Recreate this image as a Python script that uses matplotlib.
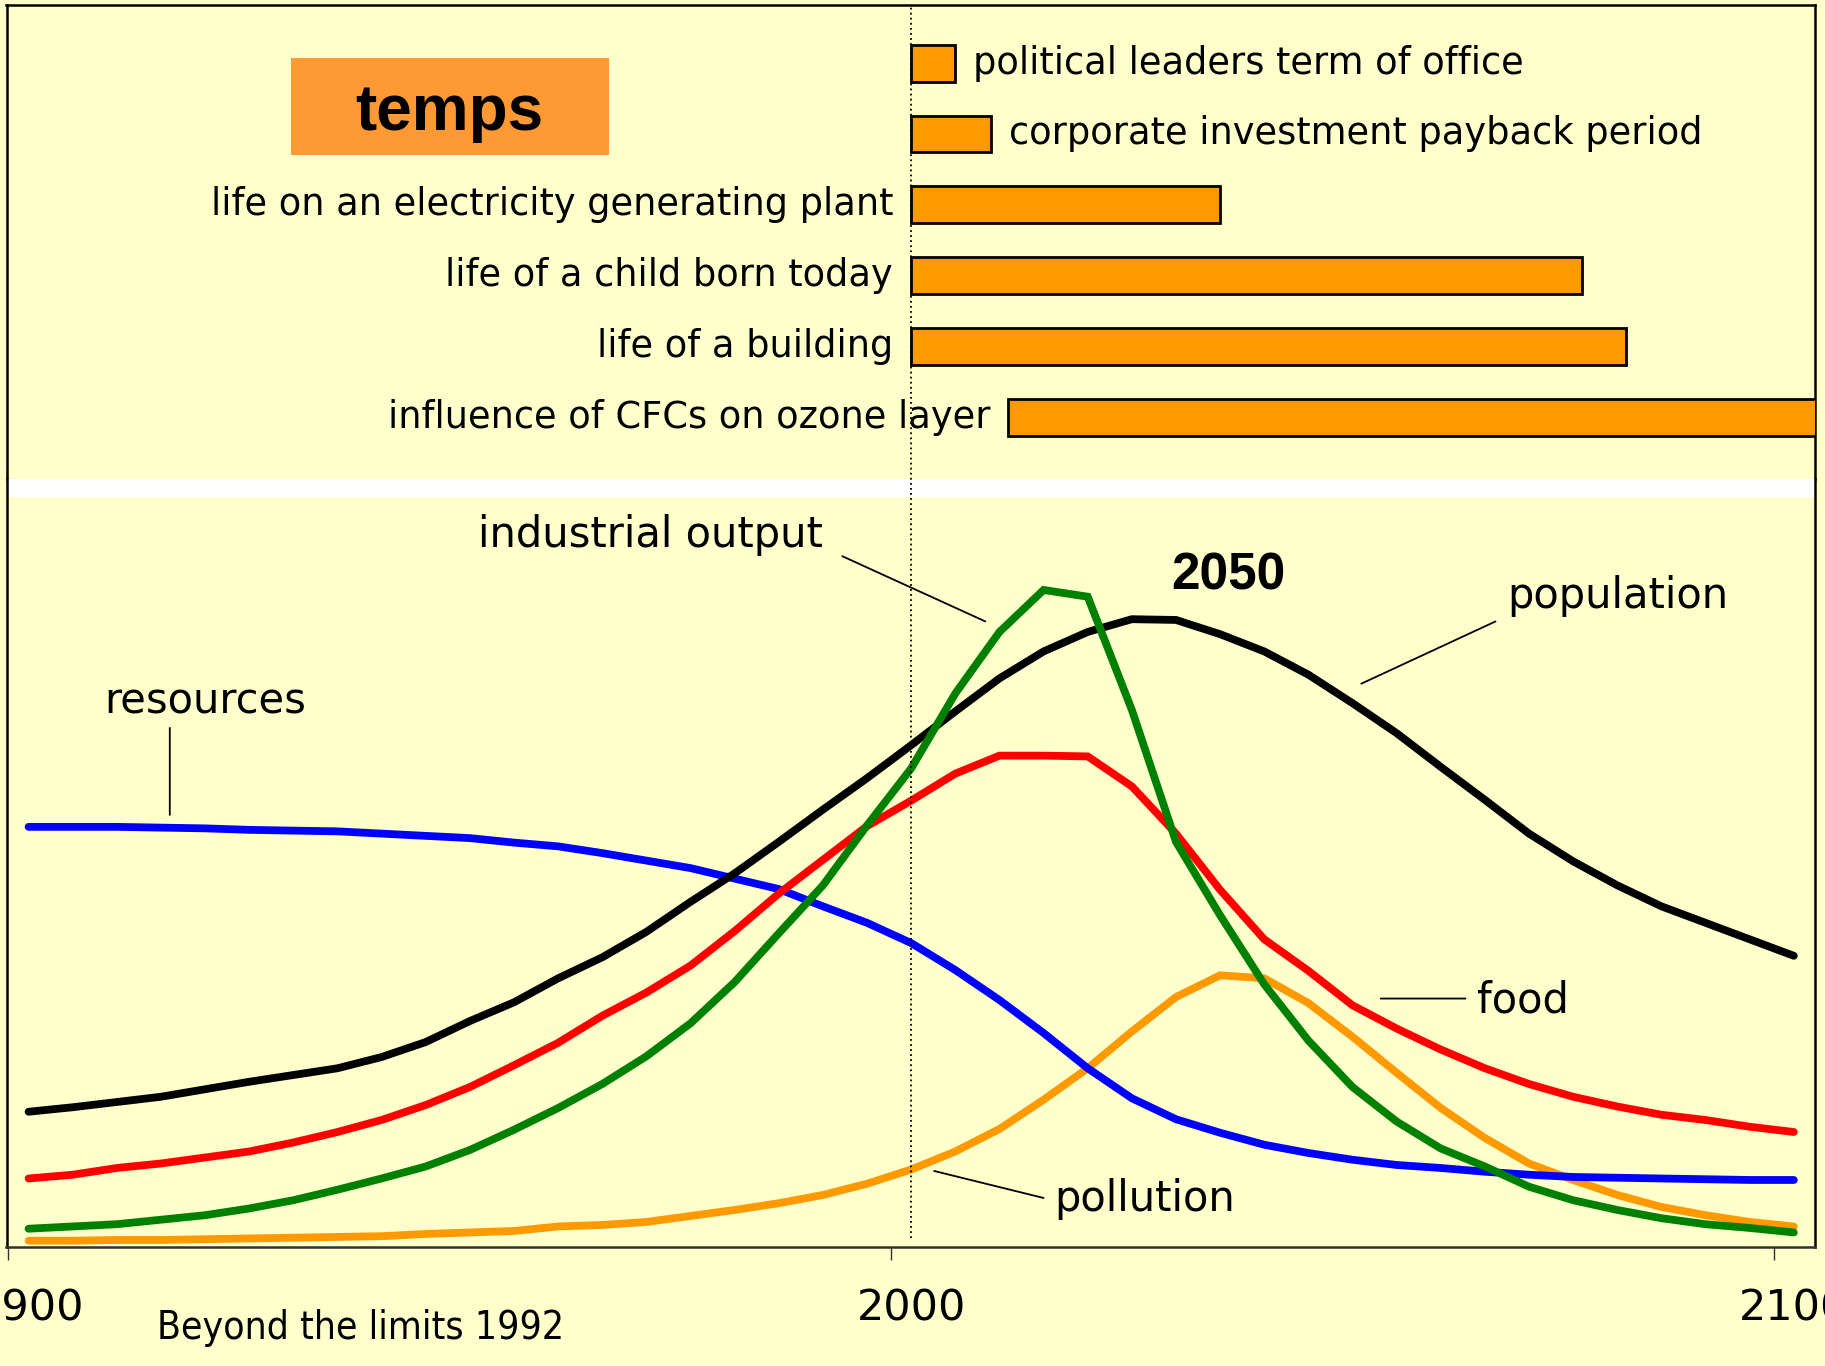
import matplotlib
matplotlib.use("Agg")
import matplotlib.pyplot as plt
from matplotlib.patches import Rectangle
from matplotlib.lines import Line2D
from matplotlib import transforms, font_manager

# ---------------- data ----------------
years = list(range(1900, 2101, 5))

population = [18.0, 18.6, 19.3, 20.0, 21.0, 22.0, 22.9, 23.8, 25.3, 27.3, 30.1, 32.6, 35.8, 38.6,
              42.0, 46.0, 49.8, 54.0, 58.3, 62.5, 66.9, 71.4, 75.8, 79.4, 82.0, 83.7, 83.6, 81.7,
              79.4, 76.3, 72.5, 68.5, 64.0, 59.6, 55.1, 51.4, 48.2, 45.4, 43.2, 41.0, 38.8]
food = [9.1, 9.6, 10.5, 11.1, 11.9, 12.7, 13.9, 15.3, 16.9, 18.9, 21.3, 24.2, 27.2, 30.8,
        33.9, 37.5, 42.1, 47.1, 51.6, 56.1, 59.5, 63.1, 65.5, 65.5, 65.4, 61.4, 55.1, 47.6,
        41.0, 36.8, 32.2, 29.1, 26.3, 23.8, 21.7, 20.0, 18.7, 17.6, 16.9, 16.0, 15.3]
industrial_output = [2.4, 2.7, 3.0, 3.6, 4.2, 5.1, 6.2, 7.6, 9.1, 10.7, 12.9, 15.6, 18.5, 21.7,
                     25.4, 29.8, 35.3, 41.8, 48.2, 56.2, 63.8, 73.8, 82.0, 87.6, 86.7, 71.6, 54.0, 44.2,
                     35.0, 27.5, 21.3, 16.7, 13.1, 10.7, 8.0, 6.2, 4.9, 3.8, 3.0, 2.5, 1.9]
resources = [56.0, 56.0, 56.0, 55.9, 55.8, 55.6, 55.5, 55.4, 55.1, 54.8, 54.5, 53.9, 53.4, 52.5,
             51.5, 50.5, 49.1, 47.7, 45.4, 43.2, 40.5, 36.9, 32.9, 28.5, 23.8, 19.8, 17.0, 15.2,
             13.6, 12.5, 11.6, 10.9, 10.5, 10.0, 9.6, 9.3, 9.2, 9.1, 9.0, 8.9, 8.9]
pollution = [0.8, 0.8, 0.9, 0.9, 1.0, 1.1, 1.2, 1.3, 1.4, 1.7, 1.9, 2.1, 2.7, 2.9,
             3.3, 4.1, 4.9, 5.8, 6.9, 8.4, 10.3, 12.7, 15.7, 19.6, 23.8, 28.7, 33.3, 36.2,
             35.8, 32.5, 28.0, 23.2, 18.5, 14.5, 11.1, 8.9, 6.9, 5.3, 4.2, 3.3, 2.7]

bar_labels = ["political leaders term of office",
              "corporate investment payback period",
              "life on an electricity generating plant",
              "life of a child born today",
              "life of a building",
              "influence of CFCs on ozone layer"]
bar_start = [2000, 2000, 2000, 2000, 2000, 2011]
bar_length = [5, 9, 35, 76, 81, 100]

tick_years = [1900, 2000, 2100]
tick_labels = ["1900", "2000", "2100"]
today = 2000

# ---------------- style ----------------
BG = "#FFFFCC"
BAR = "#FF9900"
BOX = "#FF9933"
LABEL_FONT = "DejaVu Sans"


def find_condensed():
    """Return (family, stretch) of an installed narrow sans font, or None."""
    for f in font_manager.fontManager.ttflist:
        low = (f.name + " " + f.fname).lower()
        if ("narrow" in low or "condensed" in low) and "bold" not in low \
                and "oblique" not in low and "italic" not in low and "mono" not in low \
                and "serif" not in low:
            return f.name, f.stretch
    return None


cond = find_condensed()
if cond is not None:
    NARROW_KW = dict(family=cond[0], fontstretch=cond[1], fontsize=28)
else:
    NARROW_KW = dict(family="Liberation Sans", fontsize=28)

fig = plt.figure(figsize=(18.25, 13.66), dpi=100, facecolor=BG)

L = 6.5 / 1825
W = (1815 - 6.5) / 1825
ax_top = fig.add_axes([L, 1 - 479 / 1366, W, (479 - 5) / 1366])
ax_bot = fig.add_axes([L, 1 - 1246.7 / 1366, W, (1246.7 - 479) / 1366])

xlim = (1897.5, 2102.4)
for ax in (ax_top, ax_bot):
    ax.set_facecolor(BG)
    ax.set_xlim(*xlim)
    for s in ("left", "right"):
        ax.spines[s].set_linewidth(1.8)
        ax.spines[s].set_color("black")
ax_top.spines["bottom"].set_visible(False)
ax_top.spines["top"].set_linewidth(1.8)
ax_bot.spines["top"].set_visible(False)
ax_bot.spines["bottom"].set_linewidth(1.8)
ax_bot.spines["bottom"].set_color("#333333")

# ---------------- top panel: time horizons ----------------
pos = list(range(len(bar_labels)))
ax_top.barh(pos, bar_length, left=bar_start, height=0.52, color=BAR,
            edgecolor="black", linewidth=2.0, zorder=3)
ax_top.set_ylim(5.87, -0.82)
ax_top.set_xticks([])
ax_top.set_yticks([])
for i, (lab, s, d) in enumerate(zip(bar_labels, bar_start, bar_length)):
    if d < 20:
        ax_top.annotate(lab, xy=(s + d, i), xytext=(13, 0), textcoords="offset points",
                        ha="left", va="center", fontsize=26.5, family=LABEL_FONT)
    else:
        ax_top.annotate(lab, xy=(s, i), xytext=(-13, 0), textcoords="offset points",
                        ha="right", va="center", fontsize=26.5, family=LABEL_FONT)

ax_top.add_patch(Rectangle((291 / 1825, 1 - 155 / 1366), 318 / 1825, 97 / 1366,
                           transform=fig.transFigure, facecolor=BOX, edgecolor="none", zorder=2))
ax_top.text(449 / 1825, 1 - 130 / 1366, "temps", transform=fig.transFigure, ha="center",
            va="baseline", fontsize=46, fontweight="bold", family="Liberation Sans", zorder=4)

# ---------------- bottom panel: scenario curves ----------------
ax_bot.set_ylim(0, 102.4)
ax_bot.add_patch(Rectangle((0, 749.7 / 767.7), 1, 1 - 749.7 / 767.7, transform=ax_bot.transAxes,
                           facecolor="white", edgecolor="none", zorder=0.5))

lw = 5.6
kw = dict(linewidth=lw, solid_capstyle="round", solid_joinstyle="miter")
ax_bot.plot(years, pollution, color="#FF9900", zorder=3, **kw)
ax_bot.plot(years, resources, color="#0000FF", zorder=3.1, **kw)
ax_bot.plot(years, food, color="#FF0000", zorder=3.2, **kw)
ax_bot.plot(years, population, color="black", zorder=3.3, **kw)
ax_bot.plot(years, industrial_output, color="#008000", zorder=3.4, **kw)

ax_bot.set_yticks([])
ax_bot.set_xticks(tick_years)
ax_bot.set_xticklabels(tick_labels, family=LABEL_FONT)
ax_bot.tick_params(axis="x", which="major", length=0, pad=29.5, labelsize=31)
ax_bot.set_xticks([t - 2.3 for t in tick_years], minor=True)
ax_bot.tick_params(axis="x", which="minor", length=9, width=1.0, color="#333333")

lab_kw = dict(fontsize=30, family=LABEL_FONT, va="baseline", zorder=6)
line_kw = dict(arrowstyle="-", linewidth=1.3, color="black", shrinkA=0, shrinkB=0)

ax_bot.text(1990.0, 93.3, "industrial output", ha="right", **lab_kw)
ax_bot.annotate("", xy=(2008.4, 83.4), xytext=(1992.2, 92.1), arrowprops=line_kw)

ax_bot.text(2029.5, 87.6, "2050", ha="left", va="baseline", fontsize=37,
            fontweight="bold", family="Liberation Sans", zorder=6)

ax_bot.text(2067.5, 85.2, "population", ha="left", **lab_kw)
ax_bot.annotate("", xy=(2051.0, 75.1), xytext=(2066.2, 83.4), arrowprops=line_kw)

ax_bot.text(1920.0, 71.2, "resources", ha="center", **lab_kw)
ax_bot.annotate("", xy=(1916.0, 57.6), xytext=(1916.0, 69.2), arrowprops=line_kw)

ax_bot.text(2064.1, 31.2, "food", ha="left", **lab_kw)
ax_bot.annotate("", xy=(2053.2, 33.1), xytext=(2062.8, 33.1), arrowprops=line_kw)

ax_bot.text(2016.2, 4.76, "pollution", ha="left", **lab_kw)
ax_bot.annotate("", xy=(2002.6, 10.1), xytext=(2015.0, 6.5), arrowprops=line_kw)

# dotted "today" line through both panels
blend = transforms.blended_transform_factory(ax_bot.transData, fig.transFigure)
fig.add_artist(Line2D([today, today], [1 - 1238 / 1366, 1 - 7 / 1366], transform=blend,
                      color="black", linewidth=1.3, linestyle=(0, (1, 1.8)), zorder=5))

fig.text(157 / 1825, 1 - 1339.3 / 1366, "Beyond the limits 1992", ha="left", va="baseline",
         **NARROW_KW)

fig.savefig("out.png", dpi=100, facecolor=BG)
